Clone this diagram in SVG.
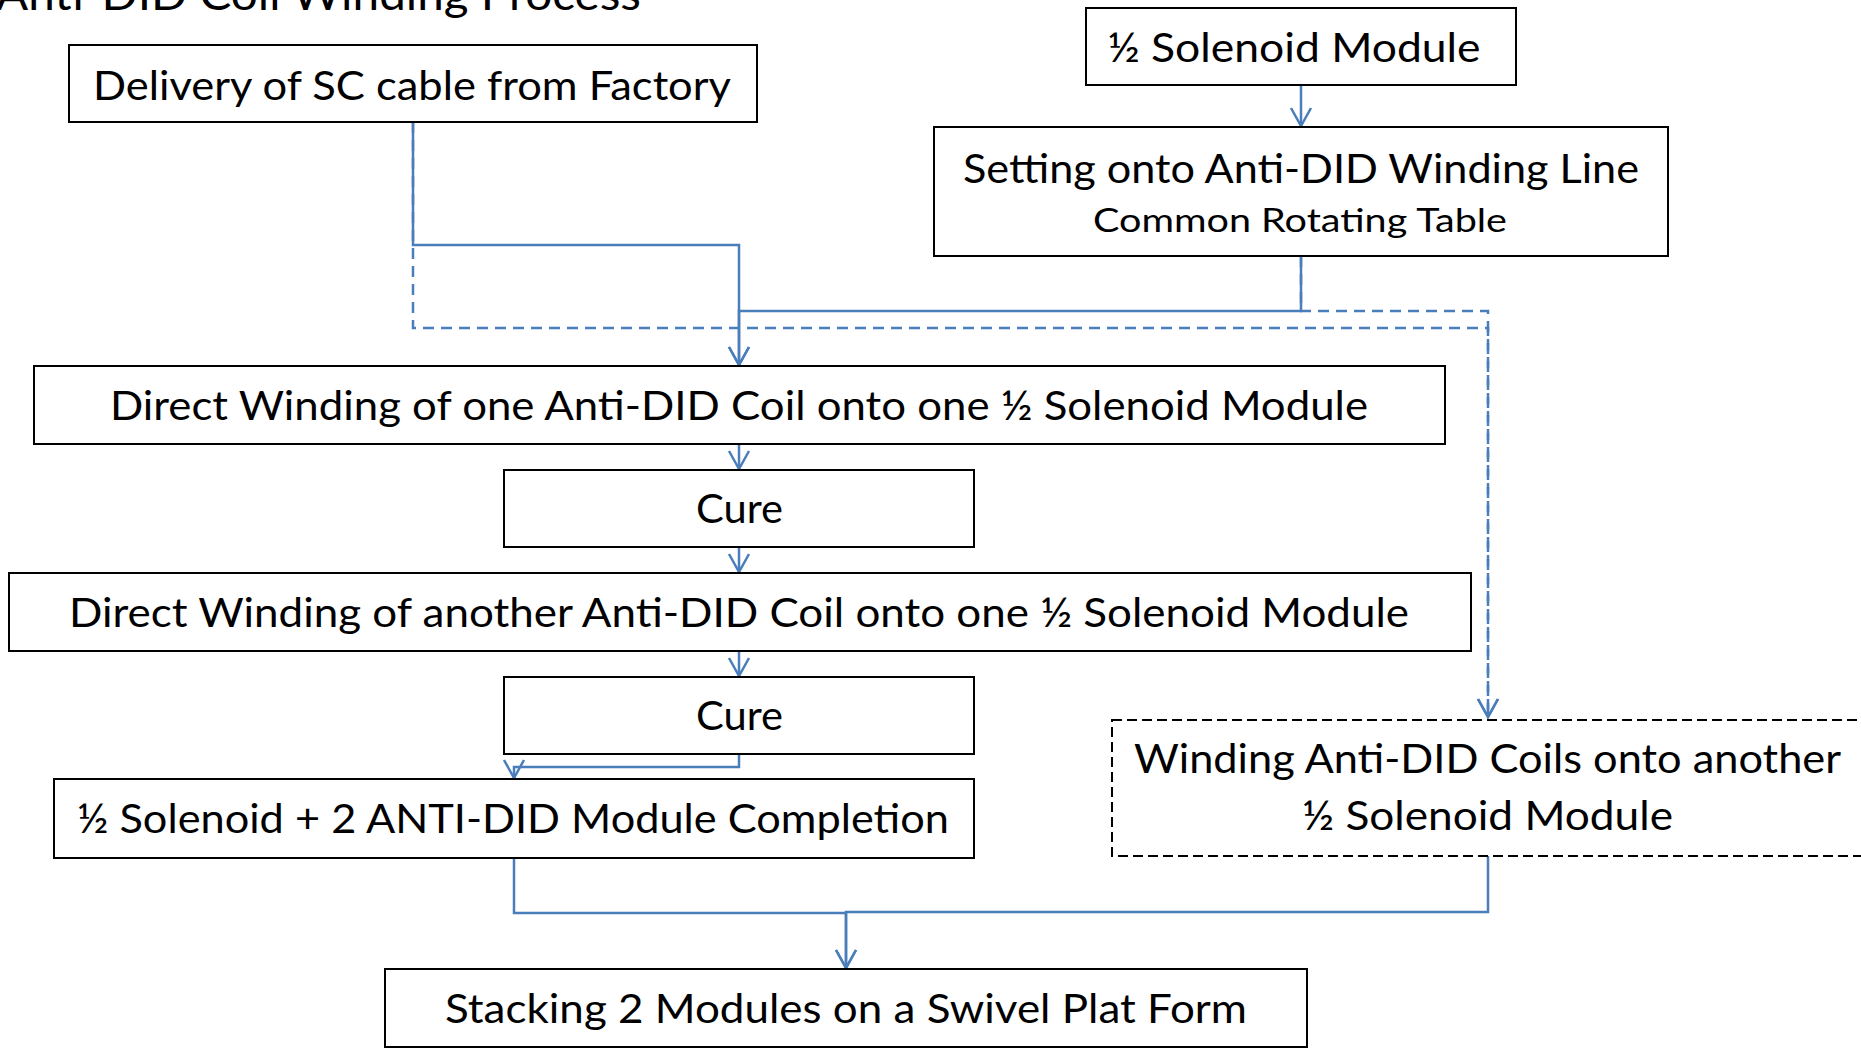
<svg xmlns="http://www.w3.org/2000/svg" width="1861" height="1048" viewBox="0 0 1861 1048">
  <style>
    .box { fill: #ffffff; stroke: #000000; stroke-width: 2; }
    .dbox { fill: #ffffff; stroke: #000000; stroke-width: 2; stroke-dasharray: 10 5; }
    .t { font-family: Lato, "Open Sans", "Liberation Sans", sans-serif; font-size: 40px; fill: #000000; text-anchor: middle; }
    .ts { font-size: 33px; }
    .c { fill: none; stroke: #4a7ebb; stroke-width: 2.5; }
    .cd { fill: none; stroke: #4a7ebb; stroke-width: 2.5; stroke-dasharray: 11 7; }
  </style>
  <defs>
    <marker id="arr" markerUnits="userSpaceOnUse" markerWidth="24" markerHeight="26" viewBox="-21 -13 24 26" refX="0" refY="0" orient="auto" overflow="visible">
      <path d="M-18,-10 L0,0 L-18,10" fill="none" stroke="#4a7ebb" stroke-width="2.5" stroke-dasharray="none"/>
    </marker>
  </defs>

  <text class="t" x="-4" y="10" style="text-anchor:start;font-size:44px" textLength="645" lengthAdjust="spacingAndGlyphs">Anti-DID Coil Winding Process</text>

  <g id="connectors">
    <path class="cd" d="M413,122 V328 H1488 V717" marker-end="url(#arr)"/>
    <path class="cd" d="M1301,256 V311 H1488 V717" marker-end="url(#arr)"/>
    <path class="c" d="M413,122 V245 H739 V365" marker-end="url(#arr)"/>
    <path class="c" d="M1301,256 V311 H739 V365" marker-end="url(#arr)"/>
    <path class="c" d="M1301,85 V126" marker-end="url(#arr)"/>
    <path class="c" d="M739,444 V469" marker-end="url(#arr)"/>
    <path class="c" d="M739,547 V572" marker-end="url(#arr)"/>
    <path class="c" d="M739,651 V676" marker-end="url(#arr)"/>
    <path class="c" d="M739,754 V767 H514 V778" marker-end="url(#arr)"/>
    <path class="c" d="M514,858 V913 H846 V968" marker-end="url(#arr)"/>
    <path class="c" d="M1488,856 V912 H846 V968" marker-end="url(#arr)"/>
  </g>

  <g id="delivery">
    <rect class="box" x="69" y="45" width="688" height="77"/>
    <text class="t" x="412" y="99.5" textLength="638" lengthAdjust="spacingAndGlyphs">Delivery of SC cable from Factory</text>
  </g>

  <g id="half-solenoid">
    <rect class="box" x="1086" y="8" width="430" height="77"/>
    <text class="t" x="1294" y="62" textLength="373" lengthAdjust="spacingAndGlyphs">½ Solenoid Module</text>
  </g>

  <g id="setting">
    <rect class="box" x="934" y="127" width="734" height="129"/>
    <text class="t" x="1301" y="183" textLength="676" lengthAdjust="spacingAndGlyphs">Setting onto Anti-DID Winding Line</text>
    <text class="t ts" x="1300" y="232" textLength="414" lengthAdjust="spacingAndGlyphs">Common Rotating Table</text>
  </g>

  <g id="direct-1">
    <rect class="box" x="34" y="366" width="1411" height="78"/>
    <text class="t" x="739" y="420" textLength="1258" lengthAdjust="spacingAndGlyphs">Direct Winding of one Anti-DID Coil onto one ½ Solenoid Module</text>
  </g>

  <g id="cure-1">
    <rect class="box" x="504" y="470" width="470" height="77"/>
    <text class="t" x="739.5" y="523" textLength="87" lengthAdjust="spacingAndGlyphs">Cure</text>
  </g>

  <g id="direct-2">
    <rect class="box" x="9" y="573" width="1462" height="78"/>
    <text class="t" x="739" y="627" textLength="1340" lengthAdjust="spacingAndGlyphs">Direct Winding of another Anti-DID Coil onto one ½ Solenoid Module</text>
  </g>

  <g id="cure-2">
    <rect class="box" x="504" y="677" width="470" height="77"/>
    <text class="t" x="739.5" y="730" textLength="87" lengthAdjust="spacingAndGlyphs">Cure</text>
  </g>

  <g id="completion">
    <rect class="box" x="54" y="779" width="920" height="79"/>
    <text class="t" x="513" y="833" textLength="872" lengthAdjust="spacingAndGlyphs">½ Solenoid + 2 ANTI-DID Module Completion</text>
  </g>

  <g id="winding-another">
    <rect class="dbox" x="1112" y="720" width="750" height="136"/>
    <text class="t" x="1487.5" y="773" textLength="707" lengthAdjust="spacingAndGlyphs">Winding Anti-DID Coils onto another</text>
    <text class="t" x="1487.5" y="830" textLength="371" lengthAdjust="spacingAndGlyphs">½ Solenoid Module</text>
  </g>

  <g id="stacking">
    <rect class="box" x="385" y="969" width="922" height="78"/>
    <text class="t" x="846" y="1023" textLength="802" lengthAdjust="spacingAndGlyphs">Stacking 2 Modules on a Swivel Plat Form</text>
  </g>
</svg>
